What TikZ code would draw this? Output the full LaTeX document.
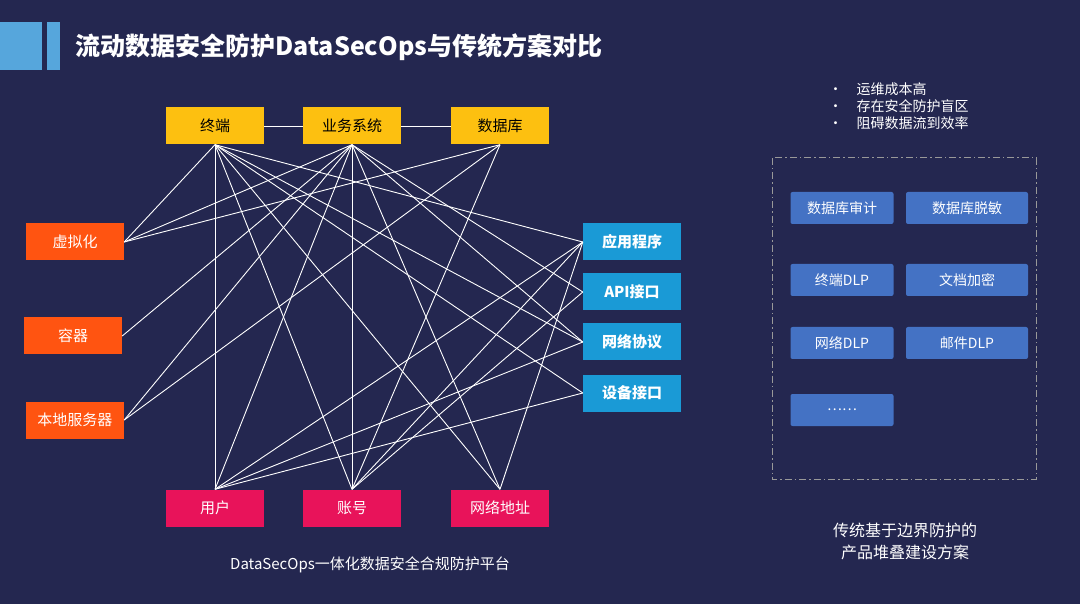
\documentclass[tikz,border=0pt]{standalone}
\usepackage{fontspec}
\setmainfont{Noto Sans CJK SC}
\usetikzlibrary{positioning}
\definecolor{bgcol}{HTML}{242750}
\definecolor{ycol}{HTML}{FDC010}
\definecolor{ocol}{HTML}{FF5411}
\definecolor{bcol}{HTML}{1A9AD6}
\definecolor{pcol}{HTML}{E8135A}
\definecolor{btncol}{HTML}{4472C4}
\definecolor{sqcol}{HTML}{56A6DC}

\begin{document}
\begin{tikzpicture}[
    x=1pt, y=-1pt,
    box/.style = {rectangle, minimum width=98pt, minimum height=37pt,
                  inner sep=0pt, font=\fontsize{15}{15}\selectfont},
    topnode/.style = {box, fill=ycol, text=black},
    leftnode/.style = {box, fill=ocol, text=white},
    rightnode/.style = {box, fill=bcol, text=white, font=\fontsize{15}{15}\selectfont\bfseries},
    botnode/.style = {box, fill=pcol, text=white},
    btn/.style = {rectangle, rounded corners=2pt, fill=btncol, text=white,
                  minimum width=103pt, minimum height=32pt, inner sep=0pt,
                  font=\fontsize{14}{14}\selectfont},
    link/.style = {draw=white, line width=0.9pt}
]
    \fill[bgcol] (0,0) rectangle (1080,604);
    \useasboundingbox (0,0) rectangle (1080,604);

    % title
    \fill[sqcol] (0,22) rectangle (42,70);
    \fill[sqcol] (47,22) rectangle (60,70);
    \node[anchor=west, text=white, font=\fontsize{25}{25}\selectfont\bfseries] (title) at (72,47)
        {流动数据安全防护DataSecOps与传统方案对比};

    % nodes
    \node[topnode] (T1) at (215,126) {终端};
    \node[topnode] (T2) at (352,126) {业务系统};
    \node[topnode] (T3) at (500,126) {数据库};
    \node[leftnode] (L1) at (75,242) {虚拟化};
    \node[leftnode] (L2) at (73,336) {容器};
    \node[leftnode] (L3) at (75,420) {本地服务器};
    \node[rightnode] (R1) at (632,242) {应用程序};
    \node[rightnode] (R2) at (632,292) {API接口};
    \node[rightnode] (R3) at (632,342) {网络协议};
    \node[rightnode] (R4) at (632,393) {设备接口};
    \node[botnode] (B1) at (215,508) {用户};
    \node[botnode] (B2) at (352,508) {账号};
    \node[botnode] (B3) at (500,508) {网络地址};

    \draw[link] (T1.east) -- (T2.west);
    \draw[link] (T2.east) -- (T3.west);

    \foreach \a/\b in {T1/L1, T2/L1, T3/L1, T2/L2, T2/L3, T3/L3}
        \draw[link] (\a.south) -- (\b.east);
    \foreach \a/\b in {T1/B1, T1/B2, T1/B3, T2/B1, T2/B2, T2/B3, T3/B2}
        \draw[link] (\a.south) -- (\b.north);
    \foreach \a/\b in {T1/R1, T1/R3, T1/R4, T2/R2, T2/R3}
        \draw[link] (\a.south) -- (\b.west);
    \foreach \a/\b in {B1/R1, B1/R3, B1/R4, B2/R1, B2/R2, B3/R1}
        \draw[link] (\a.north) -- (\b.west);

    \node[text=white, font=\fontsize{15}{15}\selectfont] (cap1) at (370,565)
        {DataSecOps一体化数据安全合规防护平台};

    % traditional panel
    \node[anchor=west, text=white, font=\fontsize{14}{17}\selectfont, align=left] (bul) at (825,106)
        {•\hspace{14pt}运维成本高\\ •\hspace{14pt}存在安全防护盲区\\ •\hspace{14pt}阻碍数据流到效率};
    \draw[gray!80, line width=1pt, dash pattern=on 7pt off 3pt on 1.5pt off 3pt]
        (772,158) rectangle (1036,479);
    \node[btn] (D1) at (842,208) {数据库审计};
    \node[btn, minimum width=122pt] (D2) at (967,208) {数据库脱敏};
    \node[btn] (D3) at (842,280) {终端DLP};
    \node[btn, minimum width=122pt] (D4) at (967,280) {文档加密};
    \node[btn] (D5) at (842,343) {网络DLP};
    \node[btn, minimum width=122pt] (D6) at (967,343) {邮件DLP};
    \node[btn] (D7) at (842,410) {……};
    \node[text=white, font=\fontsize{16}{22}\selectfont, align=center] (cap2) at (905,541)
        {传统基于边界防护的\\产品堆叠建设方案};
\end{tikzpicture}
\end{document}
